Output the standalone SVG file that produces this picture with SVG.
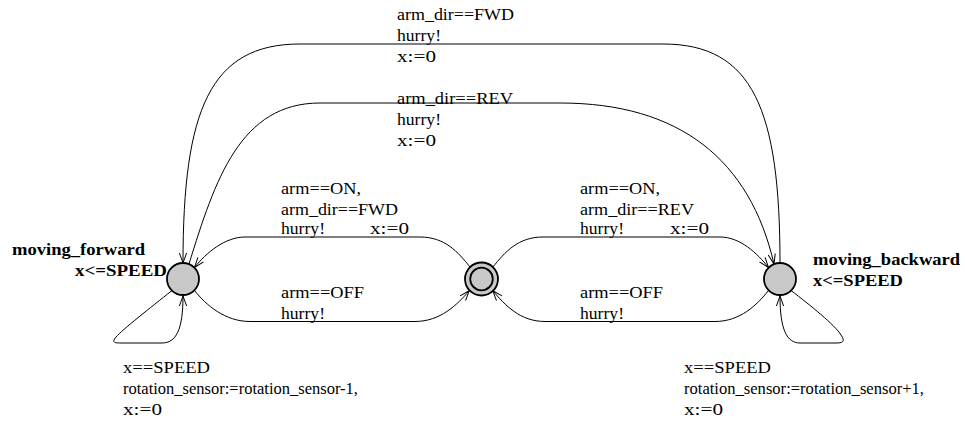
<svg xmlns="http://www.w3.org/2000/svg" width="965" height="423" viewBox="0 0 965 423">
  <defs>
    <marker id="arrow" markerUnits="userSpaceOnUse" markerWidth="14" markerHeight="12" viewBox="-12 -6 14 12" refX="0" refY="0" orient="auto">
      <path d="M -10,-3.6 L 0,0 L -10,3.6" fill="none" stroke="#000" stroke-width="1"/>
    </marker>
    <style>
      .edge { fill: none; stroke: #000; stroke-width: 1; }
      .arrowed { marker-end: url(#arrow); }
      .loc { fill: #c8c8c8; stroke: #000; stroke-width: 1.8; }
      .lbl { font-family: "Liberation Serif", "Times New Roman", serif; font-size: 16.5px; fill: #000; }
      .name { font-family: "Liberation Serif", "Times New Roman", serif; font-size: 16.5px; font-weight: bold; fill: #000; }
    </style>
  </defs>

  <!-- transitions -->
  <g id="edges">
    <!-- moving_backward -> moving_forward (arm_dir==FWD) -->
    <path class="edge arrowed" d="M 780,263 C 780,110 753,44 663,44 L 300,44 C 210,44 183,110 183,263"/>
    <!-- moving_forward -> moving_backward (arm_dir==REV) -->
    <path class="edge arrowed" d="M 189,264 C 215,180 240,103 320,103 L 560,103 C 680,103 750,160 774,264"/>
    <!-- idle -> moving_forward (arm==ON) -->
    <path class="edge arrowed" d="M 470,267 C 458,252 445,237 420,237 L 245,237 C 225,237 206,253 194.5,267.5"/>
    <!-- moving_forward -> idle (arm==OFF) -->
    <path class="edge arrowed" d="M 194.5,290.5 C 206,305 225,321.5 250,321.5 L 415,321.5 C 440,321.5 457,305 469.3,290.7"/>
    <!-- idle -> moving_backward (arm==ON) -->
    <path class="edge arrowed" d="M 492.7,267.3 C 505,252 518,237 543,237 L 720,237 C 740,237 757,253 768.5,267.5"/>
    <!-- moving_backward -> idle (arm==OFF) -->
    <path class="edge arrowed" d="M 768.5,290.5 C 757,305 740,321.5 715,321.5 L 545,321.5 C 520,321.5 505,305 492.7,290.7"/>
    <!-- moving_forward self loop -->
    <path class="edge arrowed" d="M 172,290.5 C 150,308 122,330 116,337 C 111,343 115,343 122,343 L 162,343 C 176,343 183,330 183,296"/>
    <!-- moving_backward self loop -->
    <path class="edge arrowed" d="M 791,290.5 C 810,305 835,325 841,335 C 846,342 842,343 836,343 L 800,343 C 787,343 780,330 780,296"/>
  </g>

  <!-- transition labels -->
  <g id="edge-labels" class="lbl">
    <text x="397" y="20" textLength="117" lengthAdjust="spacingAndGlyphs">arm_dir==FWD</text>
    <text x="397" y="41" textLength="44" lengthAdjust="spacingAndGlyphs">hurry!</text>
    <text x="397" y="62" textLength="39" lengthAdjust="spacingAndGlyphs">x:=0</text>

    <text x="397" y="104" textLength="116" lengthAdjust="spacingAndGlyphs">arm_dir==REV</text>
    <text x="397" y="125" textLength="44" lengthAdjust="spacingAndGlyphs">hurry!</text>
    <text x="397" y="146" textLength="39" lengthAdjust="spacingAndGlyphs">x:=0</text>

    <text x="281" y="194" textLength="80" lengthAdjust="spacingAndGlyphs">arm==ON,</text>
    <text x="281" y="215" textLength="117" lengthAdjust="spacingAndGlyphs">arm_dir==FWD</text>
    <text x="281" y="234" textLength="44" lengthAdjust="spacingAndGlyphs">hurry!</text>
    <text x="370" y="234" textLength="39" lengthAdjust="spacingAndGlyphs">x:=0</text>

    <text x="281" y="298" textLength="83" lengthAdjust="spacingAndGlyphs">arm==OFF</text>
    <text x="281" y="318.5" textLength="44" lengthAdjust="spacingAndGlyphs">hurry!</text>

    <text x="580" y="194" textLength="80" lengthAdjust="spacingAndGlyphs">arm==ON,</text>
    <text x="580" y="215" textLength="114" lengthAdjust="spacingAndGlyphs">arm_dir==REV</text>
    <text x="580" y="234" textLength="44" lengthAdjust="spacingAndGlyphs">hurry!</text>
    <text x="670" y="234" textLength="39" lengthAdjust="spacingAndGlyphs">x:=0</text>

    <text x="580" y="298" textLength="83" lengthAdjust="spacingAndGlyphs">arm==OFF</text>
    <text x="580" y="318.5" textLength="44" lengthAdjust="spacingAndGlyphs">hurry!</text>

    <text x="123" y="373" textLength="87" lengthAdjust="spacingAndGlyphs">x==SPEED</text>
    <text x="123" y="394" textLength="235" lengthAdjust="spacingAndGlyphs">rotation_sensor:=rotation_sensor-1,</text>
    <text x="123" y="415" textLength="39" lengthAdjust="spacingAndGlyphs">x:=0</text>

    <text x="684" y="373" textLength="87" lengthAdjust="spacingAndGlyphs">x==SPEED</text>
    <text x="684" y="394" textLength="240" lengthAdjust="spacingAndGlyphs">rotation_sensor:=rotation_sensor+1,</text>
    <text x="684" y="415" textLength="39" lengthAdjust="spacingAndGlyphs">x:=0</text>
  </g>

  <!-- locations -->
  <g id="moving_forward">
    <circle class="loc" cx="183" cy="279" r="16"/>
    <text class="name" x="12" y="255" textLength="133" lengthAdjust="spacingAndGlyphs">moving_forward</text>
    <text class="name" x="75" y="276" textLength="92" lengthAdjust="spacingAndGlyphs">x&lt;=SPEED</text>
  </g>

  <g id="idle">
    <circle class="loc" cx="481.5" cy="279" r="16.5"/>
    <circle class="loc" cx="481.5" cy="279" r="11.3"/>
  </g>

  <g id="moving_backward">
    <circle class="loc" cx="780" cy="279" r="16"/>
    <text class="name" x="813" y="265" textLength="147" lengthAdjust="spacingAndGlyphs">moving_backward</text>
    <text class="name" x="813" y="286" textLength="90" lengthAdjust="spacingAndGlyphs">x&lt;=SPEED</text>
  </g>
</svg>
